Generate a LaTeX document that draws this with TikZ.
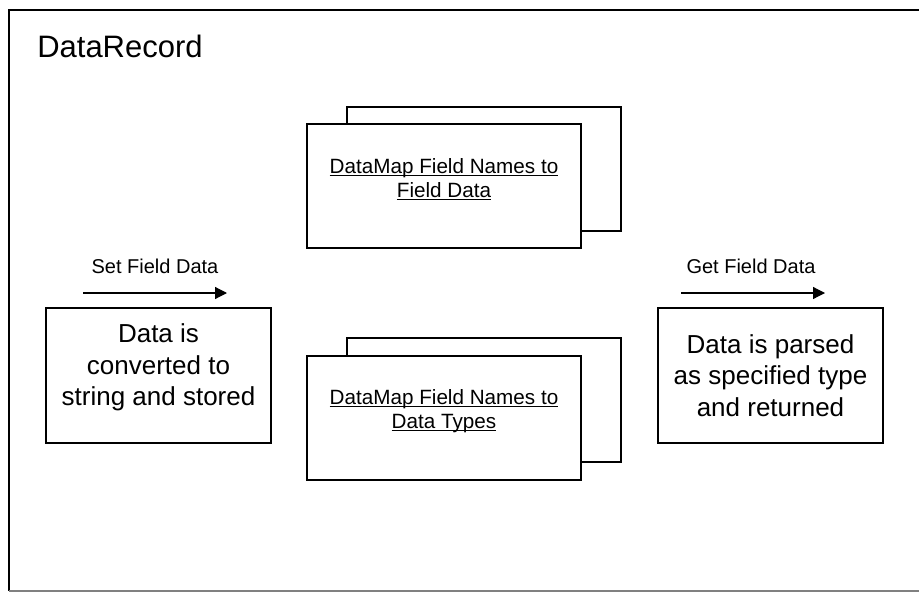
\documentclass[tikz,border=0pt]{standalone}
\usepackage{fontspec}
\setmainfont{Liberation Sans}
\usetikzlibrary{arrows.meta}
% underline at a fixed distance below the baseline, ignoring descenders
\newcommand\ulined[1]{\underline{\smash{#1}}}

\begin{document}
\begin{tikzpicture}[x=0.75pt,y=-0.75pt,
  procbox/.style={draw,line width=1.5pt,fill=white,inner sep=0pt,
    minimum width=168.75pt,minimum height=101.25pt,align=center,
    font=\fontsize{19.5}{23.5}\selectfont},
  mapbox/.style={draw,line width=1.5pt,fill=white,inner sep=0pt,
    minimum width=205.5pt,minimum height=93pt},
  maptext/.style={align=center,inner sep=0pt,
    font=\fontsize{15.5}{18}\selectfont},
  flowlabel/.style={inner sep=0pt,font=\fontsize{15}{18}\selectfont},
  flow/.style={line width=0.9pt,-{Triangle[length=9pt,width=9pt]}}]
\useasboundingbox (0,0) rectangle (919,592);

% enclosing frame
\draw[line width=1.6pt] (919,10) -- (9,10) -- (9,591);
\draw[gray,line width=1.2pt] (9,591) -- (919,591);
\node[anchor=base west,inner sep=0pt,font=\fontsize{23.25}{28}\selectfont]
  (title) at (37,57) {DataRecord};

% stacked data maps
\node[mapbox] (mapAback) at (483.5,168.5) {};
\node[mapbox] (mapA) at (444,186) {};
\node[maptext] (mapAtext) at (444,186.5)
  {\ulined{DataMap Field Names to}\\\ulined{Field Data}};

\node[mapbox] (mapBback) at (483.5,400) {};
\node[mapbox] (mapB) at (444,418) {};
\node[maptext] (mapBtext) at (444,418)
  {\ulined{DataMap Field Names to}\\\ulined{Data Types}};

% processing steps
\node[procbox] (setbox) at (158.5,375.5) {};
\node[align=center,inner sep=0pt,font=\fontsize{19.5}{23.5}\selectfont]
  (settext) at (158.5,367.5) {Data is\\converted to\\string and stored};
\node[procbox] (getbox) at (770.5,375.5)
  {Data is parsed\\as specified type\\and returned};

% set / get arrows
\coordinate (setA) at (83,293);
\coordinate (setB) at (227,293);
\draw[flow] (setA) -- (setB);
\node[flowlabel] (setlbl) at (155,266) {Set Field Data};

\coordinate (getA) at (681,293);
\coordinate (getB) at (825,293);
\draw[flow] (getA) -- (getB);
\node[flowlabel] (getlbl) at (751,266) {Get Field Data};
\end{tikzpicture}
\end{document}
